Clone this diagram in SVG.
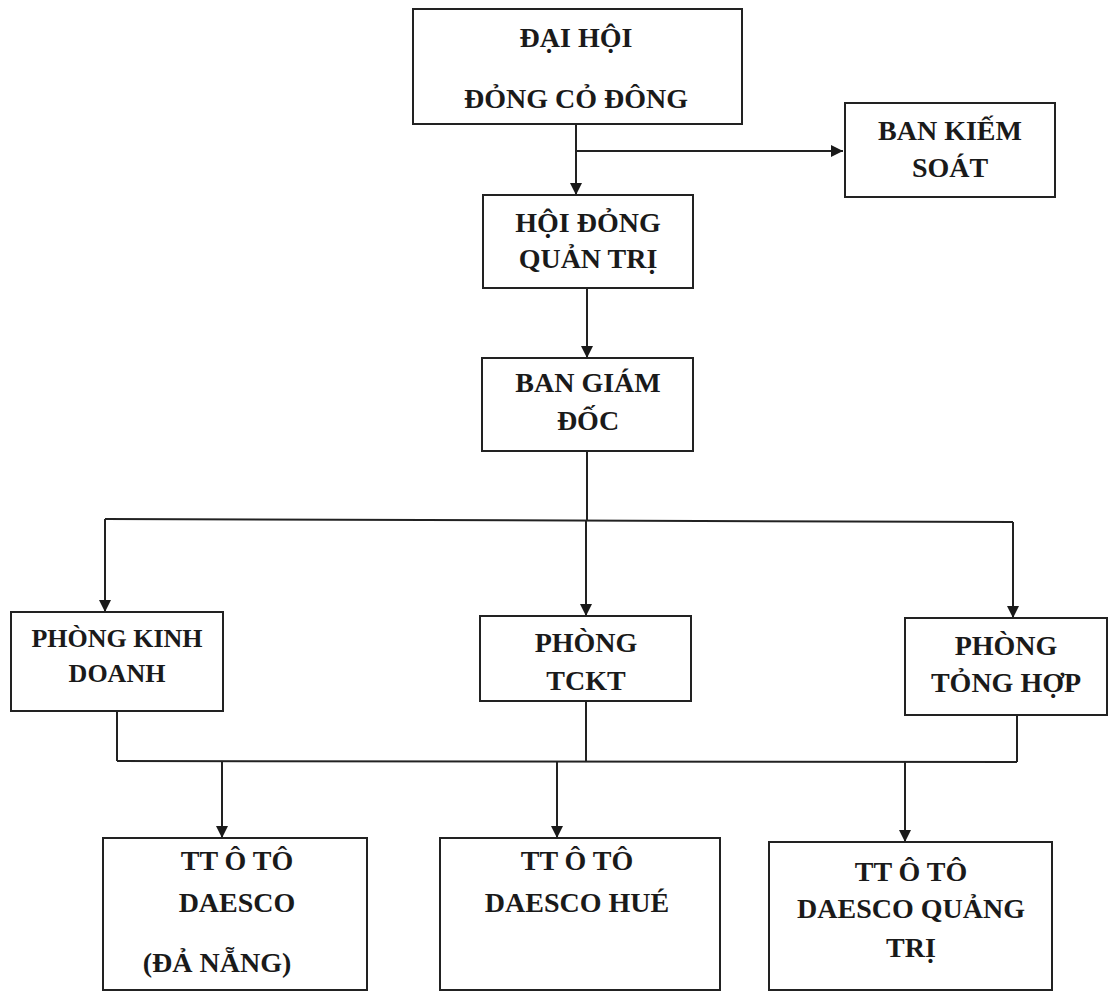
<svg xmlns="http://www.w3.org/2000/svg" width="1113" height="992" viewBox="0 0 1113 992">
<style>
.box{fill:#fff;stroke:#222;stroke-width:2}
.c{fill:none;stroke:#222;stroke-width:2}
.t{font-family:'Liberation Serif','Times New Roman',serif;font-weight:bold;font-size:28px;fill:#1a1a1a;text-anchor:middle}
</style>
<defs>
<marker id="ah" viewBox="0 0 12 14" refX="12" refY="7" markerWidth="12" markerHeight="14" markerUnits="userSpaceOnUse" orient="auto">
<path d="M0,1 L12,7 L0,13 Z" fill="#1a1a1a"/>
</marker>
</defs>
<rect width="1113" height="992" fill="#fff"/>
<g id="connectors">
<line class="c" x1="576" y1="124" x2="576" y2="195" marker-end="url(#ah)"/>
<line class="c" x1="576" y1="151" x2="843" y2="151" marker-end="url(#ah)"/>
<line class="c" x1="587" y1="288" x2="587" y2="358" marker-end="url(#ah)"/>
<line class="c" x1="587" y1="451" x2="587" y2="520"/>
<line class="c" x1="105" y1="519" x2="1013" y2="522"/>
<line class="c" x1="105" y1="519" x2="105" y2="612" marker-end="url(#ah)"/>
<line class="c" x1="586" y1="520" x2="586" y2="616" marker-end="url(#ah)"/>
<line class="c" x1="1013" y1="522" x2="1013" y2="618" marker-end="url(#ah)"/>
<line class="c" x1="117" y1="711" x2="117" y2="761"/>
<line class="c" x1="586" y1="701" x2="586" y2="761"/>
<line class="c" x1="1017" y1="715" x2="1017" y2="762"/>
<line class="c" x1="117" y1="761" x2="1017" y2="762"/>
<line class="c" x1="222" y1="761" x2="222" y2="838" marker-end="url(#ah)"/>
<line class="c" x1="557" y1="761" x2="557" y2="838" marker-end="url(#ah)"/>
<line class="c" x1="905" y1="762" x2="905" y2="842" marker-end="url(#ah)"/>
</g>
<g id="dhcd">
<rect class="box" x="413" y="9" width="329" height="115"/>
<text class="t" x="576" y="47">ĐẠI HỘI</text>
<text class="t" x="576" y="108">ĐỎNG CỎ ĐÔNG</text>
</g>
<g id="bks">
<rect class="box" x="845" y="103" width="210" height="94"/>
<text class="t" x="950" y="140">BAN KIẾM</text>
<text class="t" x="950" y="177">SOÁT</text>
</g>
<g id="hdqt">
<rect class="box" x="483" y="195" width="210" height="93"/>
<text class="t" x="588" y="232">HỘI ĐỎNG</text>
<text class="t" x="588" y="268">QUẢN TRỊ</text>
</g>
<g id="bgd">
<rect class="box" x="482" y="358" width="211" height="93"/>
<text class="t" x="588" y="392">BAN GIÁM</text>
<text class="t" x="588" y="430">ĐỐC</text>
</g>
<g id="pkd">
<rect class="box" x="11" y="612" width="212" height="99"/>
<text class="t" x="117" y="647" style="font-size:26px">PHÒNG KINH</text>
<text class="t" x="117" y="682" style="font-size:26px">DOANH</text>
</g>
<g id="ptckt">
<rect class="box" x="480" y="616" width="211" height="85"/>
<text class="t" x="586" y="652">PHÒNG</text>
<text class="t" x="586" y="690">TCKT</text>
</g>
<g id="pth">
<rect class="box" x="905" y="618" width="202" height="97"/>
<text class="t" x="1006" y="655">PHÒNG</text>
<text class="t" x="1006" y="692">TỎNG HỢP</text>
</g>
<g id="tt1">
<rect class="box" x="103" y="838" width="264" height="152"/>
<text class="t" x="237" y="870">TT Ô TÔ</text>
<text class="t" x="237" y="912">DAESCO</text>
<text class="t" x="217" y="972">(ĐẢ NẴNG)</text>
</g>
<g id="tt2">
<rect class="box" x="440" y="838" width="280" height="152"/>
<text class="t" x="577" y="870">TT Ô TÔ</text>
<text class="t" x="577" y="912">DAESCO HUÉ</text>
</g>
<g id="tt3">
<rect class="box" x="769" y="842" width="283" height="148"/>
<text class="t" x="911" y="881">TT Ô TÔ</text>
<text class="t" x="911" y="918">DAESCO QUẢNG</text>
<text class="t" x="911" y="957">TRỊ</text>
</g>
</svg>
